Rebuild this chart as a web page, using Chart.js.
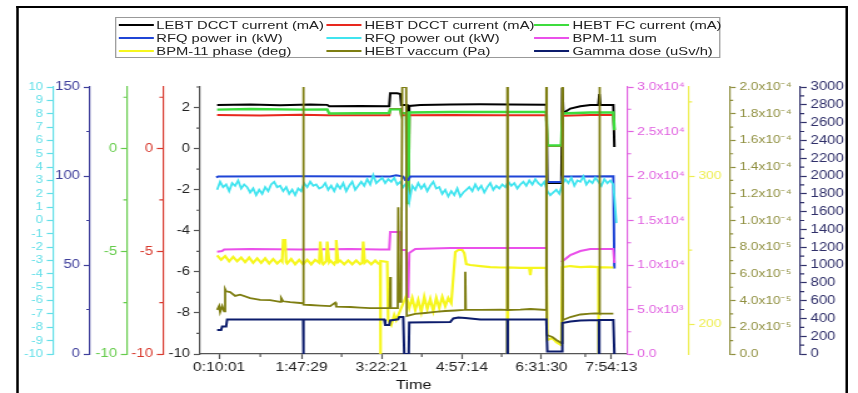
<!DOCTYPE html>
<html>
<head>
<meta charset="utf-8">
<script src="https://cdn.jsdelivr.net/npm/chart.js@4.4.1/dist/chart.umd.min.js"></script>
<style>
  html, body { margin: 0; padding: 0; background: #fff; overflow: hidden; }
  #wrap { position: absolute; left: 0; top: 0; width: 686px; height: 393px; transform: scaleX(1.2507); transform-origin: 0 0; }
  #frame { position: absolute; left: 12.8px; top: 6px; width: 661px; height: 420px; border: 2px solid #000; border-bottom: none; }
  #legend { position: absolute; left: 92px; top: 17px; width: 484px; height: 41px; box-sizing: border-box; border: 1px solid #999;
            padding-left: 1.6px; display: grid; grid-template-columns: repeat(3, 166.4px); grid-auto-rows: 13px;
            font: 11.8px 'Liberation Sans', Arial, sans-serif; color: #222; }
  .item { display: flex; align-items: center; white-space: nowrap; }
  .sw { display: inline-block; width: 28px; height: 2px; margin-right: 2.4px; }
  canvas { position: absolute; left: 0; top: 0; }
</style>
</head>
<body>
<div id="wrap">
  <canvas id="chart" width="686" height="393"></canvas>
  <div id="frame"></div>
  <div id="legend"></div>
</div>
<script>
// time axis (seconds since midnight of the run)
const xTickValues = [601, 6449, 12141, 17834, 23490, 28453];
const xTickLabels = ['0:10:01', '1:47:29', '3:22:21', '4:57:14', '6:31:30', '7:54:13'];
const xMinor = [3525, 9295, 14990, 20660, 26600];

// LEBT DCCT current (mA)
const lebtTime = [459, 2804, 4935, 7067, 8274, 8417, 10619, 12680, 12751, 13248, 13461, 13532, 13958, 13993, 14065, 14100, 14882, 17014, 19145, 21276, 23763, 23834, 23905, 24901, 24971, 25042, 25539, 26250, 26960, 27529, 27600, 27671, 28593, 28666];
const lebtVal = [2.12, 2.15, 2.11, 2.15, 2.13, 2.06, 2.08, 2.06, 2.70, 2.69, 2.66, 2.12, 2.12, -1.33, -1.33, 2.08, 2.12, 2.15, 2.16, 2.15, 2.13, 2.12, -1.68, -1.68, 2.95, 1.73, 1.95, 2.06, 2.12, 2.13, 2.66, 2.12, 2.12, 0.08];

// HEBT DCCT current (mA)
const hebtDcctTime = [459, 3514, 6356, 8274, 8417, 12680, 12751, 13461, 13532, 13958, 13993, 14065, 14100, 17014, 20566, 23834, 23905, 24901, 24971, 26960, 28593, 28666];
const hebtDcctVal = [1.64, 1.61, 1.65, 1.63, 1.62, 1.62, 1.93, 1.93, 1.62, 1.62, -2.5, -2.5, 1.62, 1.64, 1.62, 1.62, 0.13, 0.13, 1.60, 1.64, 1.64, 0.9];

// HEBT FC current (mA)
const hebtFcTime = [459, 2804, 6356, 8274, 8417, 10619, 12680, 12751, 13461, 13532, 13887, 13958, 14029, 14100, 17014, 20566, 23834, 23905, 24901, 24971, 26960, 28593, 28666];
const hebtFcVal = [1.90, 1.93, 1.90, 1.91, 1.71, 1.72, 1.73, 1.91, 1.91, 1.73, 1.73, -2.65, -2.65, 1.76, 1.78, 1.78, 1.78, 0.15, 0.15, 1.71, 1.76, 1.76, 0.9];

// RFQ power in (kW)
const rfqInTime = [388, 530, 6356, 12751, 13177, 13674, 13816, 14029, 14171, 23834, 23905, 24901, 24971, 28593, 28666];
const rfqInVal = [99.2, 99.7, 99.8, 99.7, 100.4, 99.7, 97.8, 97.8, 99.7, 99.7, 96.6, 96.6, 99.7, 99.8, 48];

// RFQ power out (kW), logged every 213 s from 459 s
const rfqOutStart = 459;
const rfqOutStep = 213.15;
const rfqOutVal = [
  2.3, 2.9, 2.5, 2.7, 2.2, 2.8, 2.6, 3.0, 2.4, 2.7, 2.5,
  2.1, 2.4, 1.9, 2.3, 2.0, 2.5, 2.2,
  2.7, 2.9, 2.5, 2.6,
  2.2, 2.5, 2.0, 2.3, 1.9, 2.4, 2.2,
  2.8, 2.5, 2.9, 2.6, 2.7, 2.4,
  2.5, 2.8, 2.3, 2.6, 2.2, 2.7,
  2.4, 2.8, 2.2, 2.6, 2.9, 2.3, 2.6,
  2.9, 2.6, 3.1, 2.7, 3.4, 2.8, 3.0,
  3.2, 2.8, 3.1, 2.9, 3.2,
  2.7, 2.9, 2.5, 2.8,
  1.4,
  2.6, 2.3, 2.8, 2.4, 2.7, 2.2, 2.6, 2.9, 2.4, 2.5,
  2.0, 2.3, 1.8, 2.2, 1.9, 2.4, 1.8, 2.1, 2.3,
  2.5, 2.2, 2.7, 2.3, 2.6, 2.1, 2.5, 2.8, 2.3, 2.6, 2.4,
  2.7, 2.5, 2.9, 2.6, 2.8, 2.4, 2.7,
  2.9, 2.6, 3.0, 2.7, 3.1, 2.8, 2.6, 2.9,
  2.2, 1.9, 2.1, 2.3, 2.0,
  2.7, 3.1, 2.8, 3.2, 2.6, 3.0, 2.9, 3.3, 2.7, 3.0, 2.8, 3.2, 2.9, 2.6, 3.1, 2.8, 3.0, 2.7,
  -0.2
];

// BPM-11 sum
const bpmSumTime = [459, 814, 956, 2804, 6356, 9909, 12040, 12680, 12751, 13461, 13532, 13887, 13958, 14029, 14100, 14526, 17014, 20566, 23834, 23870, 24901, 25184, 25539, 26250, 26960, 28593, 28666];
const bpmSumVal = [11500, 11570, 11740, 11800, 11740, 11800, 11740, 11740, 13710, 13710, 11690, 11690, 6400, 6400, 11350, 11800, 11910, 11900, 11910, null, 10340, 10670, 11120, 11570, 11800, 11800, 10225];

// BPM-11 phase (deg)
const bpmPhaseTime = [459, 743, 1027, 1312, 1596, 1880, 2164, 2448, 2733, 3017,
  3301, 3585, 3869, 4154, 4438, 4722, 5006, 5077, 5148, 5290,
  5361, 5432, 5717, 6001, 6285, 6569, 6853, 7138, 7422, 7706,
  7777, 7919, 7990, 8203, 8274, 8417, 8488, 8772, 8843, 8914,
  9056, 9198, 9482, 9766, 10051, 10335, 10619, 10761, 10832, 10939,
  11116, 11401, 11685, 11898, 12040, 12040, 12075, 12075, 12537, 12608,
  12822, 13035, 13177, 13887, 14100, 14313, 14526, 14739, 14953, 15166,
  15379, 15592, 15805, 16018, 16232, 16445, 16658, 16871, 17085, 17156,
  17369, 17581, 17866, 18008, 18150, 18434, 19145, 19855, 20566, 21063,
  21063, 21099, 21099, 21987, 22627, 22697, 22769, 23834, 23905, 24261,
  24545, 24901, 24971, 25539, 26250, 26960, 27529, 27529, 27565, 27565,
  28593];
const bpmPhaseVal = [246.5, 243.5, 246, 242.5, 245.5, 242.5, 245, 242, 245, 241.5,
  244.5, 241.5, 244.5, 241, 244, 241, 243.5, 242.5, 256.8, 256.8,
  242, 241, 244, 240.5, 243.5, 240.5, 243.5, 240.5, 243.5, 241.5,
  255.8, 241.5, 240.5, 242.5, 255.8, 242, 243, 240.5, 242, 256.8,
  242, 243, 240.5, 243, 240.5, 243, 240.5, 241.5, 255.8, 241.5,
  243, 240.5, 243, 241, 241.3, 180, 180, 242.7, 242, 202.9,
  199.5, 206.3, 202.9, 219.1, 211.0, 217.8, 209.6, 216.4, 208.3, 218.5,
  210.3, 217.1, 209.0, 217.8, 211.0, 218.5, 212.3, 217.8, 214.3, 223,
  248.7, 250.1, 250.1, 248, 240.6, 240.0, 239.3, 238.6, 238.3, 238.3,
  180, 180, 238.3, 238.0, 238.0, 233.2, 238.0, 238.0, 189.4, 190.7,
  188.0, 186.0, 238.6, 239.3, 238.6, 238.9, 238.6, 180, 180, 238.6,
  238.3];

// HEBT vaccum (Pa)
const vacTime = [459, 601, 672, 814, 956, 1027, 1098, 1383, 1738, 2093,
  2804, 3514, 4225, 4935, 5006, 5148, 5646, 6356, 6569, 6569,
  6604, 6604, 7067, 7777, 8488, 8843, 8914, 9909, 10619, 11330,
  12716, 12751, 12787, 13283, 13319, 13390, 13532, 13603, 13887, 13922,
  14526, 15237, 15947, 16658, 17369, 18008, 18079, 18115, 19145, 20566,
  21063, 21063, 21099, 21099, 21987, 22697, 23834, 23834, 23870, 23870,
  24261, 24545, 24901, 24971, 24971, 25007, 25007, 25539, 26250, 26960,
  27600, 27600, 27636, 27636, 28593];
const vacVal = [3.3e-5, 3.6e-5, 3.15e-5, 3.6e-5, 3.2e-5, 4.85e-5, 4.7e-5, 4.64e-5, 4.35e-5, 4.45e-5,
  4.19e-5, 4.05e-5, 4.04e-5, 3.9e-5, 4.2e-5, 3.95e-5, 3.89e-5, 3.82e-5, 3.8e-5, 2.0e-4,
  2.0e-4, 3.7e-5, 3.67e-5, 3.63e-5, 3.59e-5, 3.85e-5, 3.55e-5, 3.52e-5, 3.48e-5, 3.44e-5,
  3.44e-5, 5.77e-5, 3.44e-5, 3.44e-5, 1.1e-4, 3.9e-5, 3.9e-5, 2.0e-4, 2.0e-4, 2.85e-5,
  3.0e-5, 3.07e-5, 3.15e-5, 3.22e-5, 3.26e-5, 3.3e-5, 6.16e-5, 3.3e-5, 3.3e-5, 3.32e-5,
  3.3e-5, 2.0e-4, 2.0e-4, 3.3e-5, 3.33e-5, 3.37e-5, 3.3e-5, 2.0e-4, 2.0e-4, 1.42e-5,
  1.27e-5, 1.05e-5, 0.82e-5, 0.82e-5, 2.0e-4, 2.0e-4, 2.55e-5, 2.77e-5, 2.96e-5, 3.03e-5,
  3.05e-5, 2.0e-4, 2.0e-4, 3.03e-5, 3.03e-5];

// Gamma dose (uSv/h)
const gammaTime = [459, 743, 814, 1098, 1169, 6569, 6569, 6604, 6604, 12324,
  12395, 12680, 12751, 13319, 13390, 13674, 13745, 14065, 14100, 17014,
  17226, 17581, 18079, 19145, 21063, 21063, 21099, 21099, 23834, 23905,
  24936, 24971, 25539, 26250, 27565, 27565, 27600, 27600, 28593, 28666];
const gammaVal = [270, 270, 310, 310, 388, 388, 0, 0, 388, 388,
  326, 326, 377, 390, 416, 416, 0, 0, 354, 360,
  399, 410, 405, 388, 388, 0, 0, 388, 388, 28,
  28, 348, 365, 377, 382, 0, 0, 382, 382, 0];

// axis ticks
const mainTicks = [-10, -8, -6, -4, -2, 0, 2];
const mainMinor = [-9, -7, -5, -3, -1, 1, 3];
const fiveTicks = [-10, -5, 0];
const fiveMinor = [-7.5, -2.5, 2.5];
const rfqInTicks = [0, 50, 100, 150];
const rfqInMinor = [25, 75, 125];
const rfqOutTicks = [-10, -9, -8, -7, -6, -5, -4, -3, -2, -1, 0, 1, 2, 3, 4, 5, 6, 7, 8, 9, 10];
const sumTicks = [0, 5000, 10000, 15000, 20000, 25000, 30000];
const sumLabels = ['0.0', '5.0x10³', '1.0x10⁴', '1.5x10⁴', '2.0x10⁴', '2.5x10⁴', '3.0x10⁴'];
const sumMinor = [2500, 7500, 12500, 17500, 22500, 27500];
const phaseTicks = [200, 300];
const phaseMinor = [250, 350];
const vacTicks = [0, 2e-5, 4e-5, 6e-5, 8e-5, 1e-4, 1.2e-4, 1.4e-4, 1.6e-4, 1.8e-4, 2e-4];
const vacLabels = ['0.0', '2.0x10⁻⁵', '4.0x10⁻⁵', '6.0x10⁻⁵', '8.0x10⁻⁵', '1.0x10⁻⁴', '1.2x10⁻⁴', '1.4x10⁻⁴', '1.6x10⁻⁴', '1.8x10⁻⁴', '2.0x10⁻⁴'];
const vacMinor = [1e-5, 3e-5, 5e-5, 7e-5, 9e-5, 1.1e-4, 1.3e-4, 1.5e-4, 1.7e-4, 1.9e-4];
const gammaTicks = [0, 200, 400, 600, 800, 1000, 1200, 1400, 1600, 1800, 2000, 2200, 2400, 2600, 2800, 3000];
const gammaMinor = [100, 300, 500, 700, 900, 1100, 1300, 1500, 1700, 1900, 2100, 2300, 2500, 2700, 2900];

const FONT = "'Liberation Sans', Arial, sans-serif";

function series(times, vals) {
    return times.map((t, i) => ({ x: t, y: vals[i] }));
}

const datasets = [
    { label: 'LEBT DCCT current (mA)', data: series(lebtTime, lebtVal), borderColor: '#000000', borderWidth: 2, yAxisID: 'y' },
    { label: 'HEBT DCCT current (mA)', data: series(hebtDcctTime, hebtDcctVal), borderColor: '#e8281e', borderWidth: 2, yAxisID: 'yRed' },
    { label: 'HEBT FC current (mA)', data: series(hebtFcTime, hebtFcVal), borderColor: '#3ddc3d', borderWidth: 2.4, yAxisID: 'yGreen' },
    { label: 'RFQ power in (kW)', data: series(rfqInTime, rfqInVal), borderColor: '#1f45d6', borderWidth: 2, yAxisID: 'yBlue' },
    { label: 'RFQ power out (kW)', data: rfqOutVal.map((v, i) => ({ x: rfqOutStart + i * rfqOutStep, y: v })), borderColor: '#40e4ef', borderWidth: 1.8, yAxisID: 'yCyan' },
    { label: 'BPM-11 sum', data: series(bpmSumTime, bpmSumVal), borderColor: '#ea50ea', borderWidth: 2, yAxisID: 'yMag' },
    { label: 'BPM-11 phase (deg)', data: series(bpmPhaseTime, bpmPhaseVal), borderColor: '#f6f61e', borderWidth: 2.2, yAxisID: 'yYel' },
    { label: 'HEBT vaccum (Pa)', data: series(vacTime, vacVal), borderColor: '#7e7e12', borderWidth: 1.8, yAxisID: 'yOli' },
    { label: 'Gamma dose (uSv/h)', data: series(gammaTime, gammaVal), borderColor: '#0c1c6c', borderWidth: 2, yAxisID: 'yNavy' },
];
// later series are drawn on top, as in the original plot
datasets.forEach((d, i) => { d.order = datasets.length - 1 - i; d.pointRadius = 0; d.fill = false; });

// y axis helper
function yAxis(o) {
    return {
        type: 'linear', position: o.pos, weight: o.weight, min: o.min, max: o.max,
        afterBuildTicks: s => { s.ticks = o.ticks.map(v => ({ value: v })); },
        afterFit: s => { s.width = o.width; },
        ticks: {
            autoSkip: false, padding: 3, color: o.text || o.color,
            font: { family: FONT, size: o.size || 12 },
            callback: (v, i) => o.labels ? o.labels[i] : String(v)
        },
        grid: { drawOnChartArea: false, tickLength: 5, tickColor: o.color, tickWidth: 1.2 },
        border: { color: o.color, width: 1.2 }
    };
}

const minorTicks = {
    x: xMinor, y: mainMinor, yRed: fiveMinor, yGreen: fiveMinor, yBlue: rfqInMinor,
    yMag: sumMinor, yYel: phaseMinor, yOli: vacMinor, yNavy: gammaMinor
};

const minorTickPlugin = {
    id: 'minorTicks',
    afterDraw(chart) {
        const ctx = chart.ctx;
        Object.keys(minorTicks).forEach(id => {
            const scale = chart.scales[id];
            ctx.save();
            ctx.strokeStyle = scale.options.border.color;
            ctx.lineWidth = 1.2;
            ctx.beginPath();
            minorTicks[id].forEach(v => {
                const p = scale.getPixelForValue(v);
                if (scale.isHorizontal()) {
                    ctx.moveTo(p, scale.top); ctx.lineTo(p, scale.top + 3);
                } else if (scale.position === 'left') {
                    ctx.moveTo(scale.right, p); ctx.lineTo(scale.right - 3, p);
                } else {
                    ctx.moveTo(scale.left, p); ctx.lineTo(scale.left + 3, p);
                }
            });
            ctx.stroke();
            ctx.restore();
        });
    }
};

const ctx = document.getElementById('chart').getContext('2d');
new Chart(ctx, {
    type: 'line',
    data: { datasets: datasets },
    plugins: [minorTickPlugin],
    options: {
        responsive: false,
        animation: false,
        layout: { autoPadding: false, padding: { top: 87, left: 0, right: 0, bottom: 0 } },
        plugins: { legend: { display: false }, tooltip: { enabled: false } },
        elements: { line: { tension: 0 } },
        scales: {
            x: {
                type: 'linear', position: 'bottom', min: -749, max: 29589,
                afterBuildTicks: s => { s.ticks = xTickValues.map(v => ({ value: v })); },
                afterFit: s => { s.height = 39; },
                ticks: {
                    autoSkip: false, maxRotation: 0, padding: 1, color: '#222',
                    font: { family: FONT, size: 12.5 },
                    callback: (v, i) => xTickLabels[i]
                },
                grid: { drawOnChartArea: false, tickLength: 5, tickColor: '#555', tickWidth: 1.2 },
                border: { color: '#555', width: 1.2 },
                title: { display: true, text: 'Time', color: '#111', padding: 0, font: { family: FONT, size: 13 } }
            },
            y: yAxis({ pos: 'left', weight: 0, width: 29.6, min: -10, max: 3, ticks: mainTicks, color: '#555', text: '#222' }),
            yRed: yAxis({ pos: 'left', weight: 1, width: 28.8, min: -10, max: 3, ticks: fiveTicks, color: '#d83a2e' }),
            yGreen: yAxis({ pos: 'left', weight: 2, width: 29.6, min: -10, max: 3, ticks: fiveTicks, color: '#66cc4c' }),
            yBlue: yAxis({ pos: 'left', weight: 3, width: 29.6, min: 0, max: 150, ticks: rfqInTicks, color: '#40409c' }),
            yCyan: yAxis({ pos: 'left', weight: 4, width: 42.4, min: -10, max: 10, ticks: rfqOutTicks, color: '#62dfe8', size: 10.5 }),
            yMag: yAxis({ pos: 'right', weight: 0, width: 48.8, min: 0, max: 30000, ticks: sumTicks, labels: sumLabels, color: '#e060e0', size: 11 }),
            yYel: yAxis({ pos: 'right', weight: 1, width: 32.8, min: 180, max: 360, ticks: phaseTicks, color: '#eeee50', size: 11 }),
            yOli: yAxis({ pos: 'right', weight: 2, width: 56.8, min: 0, max: 2e-4, ticks: vacTicks, labels: vacLabels, color: '#8f8f3f', size: 11 }),
            yNavy: yAxis({ pos: 'right', weight: 3, width: 46, min: 0, max: 3000, ticks: gammaTicks, color: '#30306a', size: 12 })
        }
    }
});

// legend, 3 columns like the original
const legendEl = document.getElementById('legend');
datasets.forEach(d => {
    const item = document.createElement('div');
    item.className = 'item';
    const sw = document.createElement('span');
    sw.className = 'sw';
    sw.style.background = d.borderColor;
    const tx = document.createElement('span');
    tx.textContent = d.label;
    item.append(sw, tx);
    legendEl.appendChild(item);
});
</script>
</body>
</html>
